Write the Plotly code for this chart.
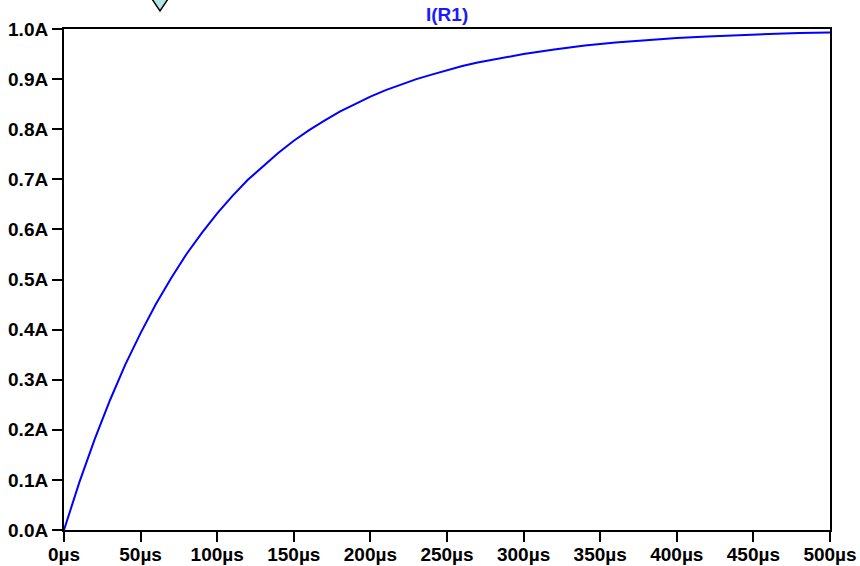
import plotly.graph_objects as go

# Time (µs) and current I(R1) (A)
time_us = [0, 10, 20, 30, 40, 50, 60, 70, 80, 90, 100, 110, 120, 130, 140, 150,
           160, 170, 180, 190, 200, 210, 220, 230, 240, 250, 260, 270, 280, 290,
           300, 320, 340, 360, 380, 400, 420, 440, 460, 480, 500]
current_a = [0.0, 0.095, 0.181, 0.259, 0.330, 0.393, 0.451, 0.503, 0.551, 0.593,
             0.632, 0.667, 0.699, 0.727, 0.753, 0.777, 0.798, 0.817, 0.835, 0.850,
             0.865, 0.878, 0.889, 0.900, 0.909, 0.918, 0.926, 0.933, 0.939, 0.945,
             0.950, 0.959, 0.967, 0.973, 0.978, 0.982, 0.985, 0.988, 0.990, 0.992,
             0.993]

x_ticks = [0, 50, 100, 150, 200, 250, 300, 350, 400, 450, 500]
x_tick_labels = [f"{v}µs" for v in x_ticks]
y_ticks = [0.0, 0.1, 0.2, 0.3, 0.4, 0.5, 0.6, 0.7, 0.8, 0.9, 1.0]
y_tick_labels = [f"{v:.1f}A" for v in y_ticks]
trace_name = "I(R1)"

FONT = "Liberation Sans, Arial, sans-serif"

fig = go.Figure()
fig.add_trace(go.Scatter(x=time_us, y=current_a, mode="lines", name=trace_name,
                         line=dict(color="#0000ff", width=2), hoverinfo="skip"))

axis_common = dict(showgrid=False, zeroline=False, showline=True, linecolor="black",
                   linewidth=2, mirror=True, ticks="outside", ticklen=10, tickwidth=2,
                   tickcolor="black", automargin=False,
                   tickfont=dict(family=FONT, size=19, color="black", weight="bold"))

fig.update_xaxes(range=[0, 500], tickvals=x_ticks, ticktext=x_tick_labels,
                 ticklabelstandoff=-4, **axis_common)
fig.update_yaxes(range=[0, 1.0], tickvals=y_ticks, ticktext=y_tick_labels, **axis_common)

fig.add_annotation(text=trace_name, xref="paper", yref="paper", x=0.5, y=1.0,
                   yanchor="bottom", yshift=2, showarrow=False,
                   font=dict(family=FONT, size=19, color="#1a1aff", weight="bold"))

# cursor marker triangle at the top
cx = (160 - 64) / 766
hw = 8 / 766
fig.add_shape(type="path", xref="paper", yref="paper",
              path=f"M {cx-hw},{(530+1)/501} L {cx+hw},{(530+1)/501} L {cx},{(530-11)/501} Z",
              fillcolor="#b4e4e4", line=dict(color="black", width=1.5))

fig.update_layout(width=860, height=566, margin=dict(l=64, r=30, t=29, b=36, autoexpand=False),
                  plot_bgcolor="white", paper_bgcolor="white", showlegend=False)

fig.write_html("out.html", config={"displayModeBar": False},
               post_script="document.body.style.margin='0';")
